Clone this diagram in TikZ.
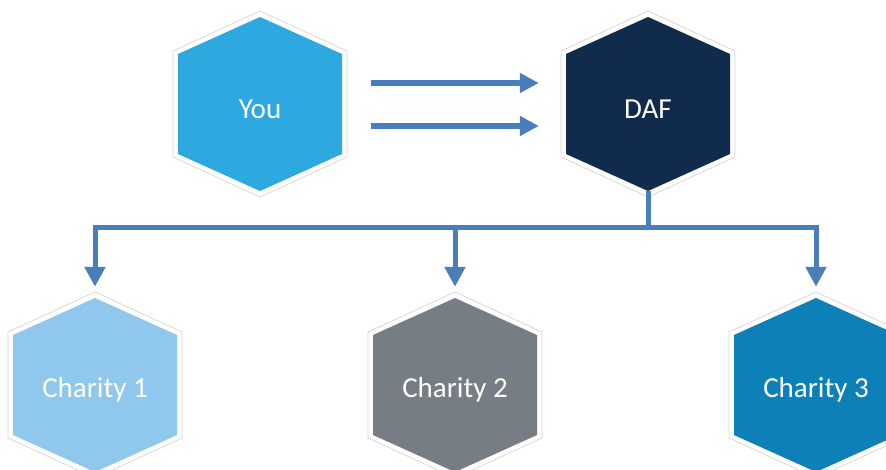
\documentclass[tikz,border=0pt]{standalone}
\usepackage{fontspec}
\setmainfont{Carlito}
\usetikzlibrary{arrows.meta}
\definecolor{youc}{HTML}{2EA9E0}
\definecolor{dafc}{HTML}{112B4C}
\definecolor{cha}{HTML}{8FC8EC}
\definecolor{chb}{HTML}{767D84}
\definecolor{chc}{HTML}{0E80B8}
\definecolor{flow}{HTML}{4A7EBB}
\definecolor{rim}{HTML}{D4D4D4}
\newcommand\hexcell[5]{%
  \draw[draw=rim, line width=0.7pt, fill=white]
    (#2,#3-93) -- (#2+87,#3-53) -- (#2+87,#3+53) -- (#2,#3+93) -- (#2-87,#3+53) -- (#2-87,#3-53) -- cycle;
  \fill[#4]
    (#2,#3-87) -- (#2+82,#3-50) -- (#2+82,#3+50) -- (#2,#3+87) -- (#2-82,#3+50) -- (#2-82,#3-50) -- cycle;
  \node[hexlabel] (#1) at (#2,#3) {};
  \node[hextext] (#1-text) at (#2,#3+5) {#5};
  \coordinate (#1-bot) at (#2,#3+87);
}
\begin{document}
\begin{tikzpicture}[x=1pt, y=-1pt,
  hexlabel/.style={rectangle, inner sep=0pt, minimum width=176pt, minimum height=196pt},
  hextext/.style={inner sep=0pt, text=white, font=\fontsize{29}{33}\selectfont},
  toparrow/.style={draw=flow, line width=6pt, -{Triangle[width=19pt,length=19pt]}},
  trunk/.style={draw=flow, line width=5pt},
  branch/.style={draw=flow, line width=5pt, line join=miter, -{Triangle[width=20pt,length=20pt]}}]
\useasboundingbox (0,0) rectangle (886,470);
\hexcell{you}{260}{104}{youc}{You}
\hexcell{daf}{648}{104}{dafc}{DAF}
\hexcell{c1}{95}{385}{cha}{Charity 1}
\hexcell{c2}{455}{385}{chb}{Charity 2}
\hexcell{c3}{816}{385}{chc}{Charity 3}
\coordinate (junc) at (648,228);
\draw[toparrow, shorten <=23pt, shorten >=21pt] ([yshift=21pt]you.east) -- ([yshift=21pt]daf.west);
\draw[toparrow, shorten <=23pt, shorten >=21pt] ([yshift=-22pt]you.east) -- ([yshift=-22pt]daf.west);
\draw[trunk] (daf-bot) -- (junc);
\draw[branch] (junc) -| (c1.north);
\draw[branch] (junc) -| (c3.north);
\draw[branch] (junc -| c2.north) -- (c2.north);
\end{tikzpicture}
\end{document}
